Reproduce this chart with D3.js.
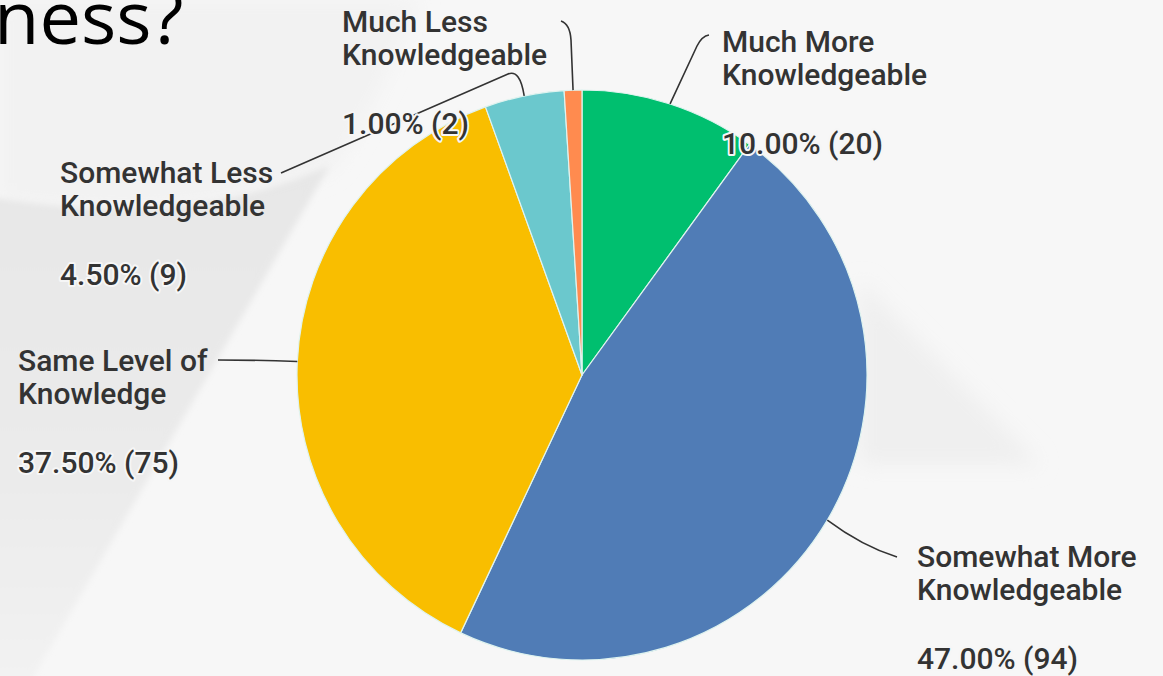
<!DOCTYPE html>
<html>
<head>
<meta charset="utf-8">
<script src="https://cdn.jsdelivr.net/npm/d3@7"></script>
<style>
  html, body { margin: 0; padding: 0; background: #f6f6f6; }
  svg { display: block; }
  .name, .value { font-family: Roboto, "Noto Sans", sans-serif; font-size: 30px; font-weight: 500; fill: #333; }
  .value { paint-order: stroke; stroke: #f6f6f6; stroke-width: 4px; stroke-linejoin: round; }
  .leader { fill: none; stroke: #333; stroke-width: 1.6; }
</style>
</head>
<body>
<svg id="chart" width="1163" height="676"></svg>
<script>
// ---------------- Дані ----------------
const categories = [
  "Much More Knowledgeable",
  "Somewhat More Knowledgeable",
  "Same Level of Knowledge",
  "Somewhat Less Knowledgeable",
  "Much Less Knowledgeable"
];
const counts   = [20, 94, 75, 9, 2];
const percents = [10.00, 47.00, 37.50, 4.50, 1.00];
const nameLines = [
  ["Much More", "Knowledgeable"],
  ["Somewhat More", "Knowledgeable"],
  ["Same Level of", "Knowledge"],
  ["Somewhat Less", "Knowledgeable"],
  ["Much Less", "Knowledgeable"]
];
const colors = ["#00bf6f", "#507cb6", "#f9be00", "#6bc8cd", "#ff8b4f"];

// розташування підписів (x, перша базова лінія) і виносок
const labelPos = [[722, 52], [917, 567], [18, 371], [60, 183], [342, 32]];
const leaders = [
  { a: [697, 46], c: [702, 36], b: [709, 35], e: [709, 35] },
  { a: null,      c: [862, 546], b: [897, 557], e: [897, 557] },
  { a: null,      c: [258, 360], b: [218, 360], e: [218, 360] },
  { a: null,      c: [520, 69], b: [508, 74], e: [281, 173] },
  { a: [571, 40], c: [570, 24], b: [561, 21], e: [561, 21] }
];

const svg = d3.select("#chart");
const width = +svg.attr("width");
const height = +svg.attr("height");

// ---------------- Фон ----------------
const defs = svg.append("defs");
const leftGrad = defs.append("linearGradient").attr("id", "leftGrad")
  .attr("x1", 0).attr("y1", 0).attr("x2", 0).attr("y2", 1);
leftGrad.append("stop").attr("offset", 0).attr("stop-color", "#e7e7e7");
leftGrad.append("stop").attr("offset", 0.6).attr("stop-color", "#ebebeb");
leftGrad.append("stop").attr("offset", 1).attr("stop-color", "#f3f3f3");
defs.append("filter").attr("id", "soft").attr("x", -0.2).attr("y", -0.2).attr("width", 1.4).attr("height", 1.4)
  .append("feGaussianBlur").attr("stdDeviation", 3);
defs.append("filter").attr("id", "softer").attr("x", -0.3).attr("y", -0.3).attr("width", 1.6).attr("height", 1.6)
  .append("feGaussianBlur").attr("stdDeviation", 10);

svg.append("rect").attr("width", width).attr("height", height).attr("fill", "#f7f7f7");
// верхній лівий кут трохи темніший
svg.append("path")
  .attr("d", "M0,0 L420,0 C380,90 350,150 330,170 C220,215 110,215 0,200 Z")
  .attr("fill", "#f2f2f2")
  .attr("filter", "url(#softer)");
// сіра область ліворуч з діагональним краєм
svg.append("path")
  .attr("d", "M-20,195 C110,218 220,215 330,165 L20,700 L-20,700 Z")
  .attr("fill", "url(#leftGrad)")
  .attr("filter", "url(#soft)");
// слабка тінь праворуч
svg.append("path")
  .attr("d", "M860,280 L1040,465 L860,465 Z")
  .attr("fill", "#efefef")
  .attr("filter", "url(#softer)");

// ---------------- Заголовок (обрізаний) ----------------
svg.append("text")
  .attr("x", -6).attr("y", 44)
  .style("font-family", "'Open Sans', 'Noto Sans', sans-serif")
  .style("font-size", "74px")
  .style("fill", "#000")
  .text("ness?");

// ---------------- Пиріг ----------------
const cx = 582, cy = 375, radius = 285;
const g = svg.append("g").attr("transform", `translate(${cx},${cy})`);

const pie = d3.pie().sort(null).value(d => d.count);
const data = categories.map((c, i) => ({ name: c, count: counts[i], pct: percents[i], i }));
const arcs = pie(data);

const arc = d3.arc().innerRadius(0).outerRadius(radius);
const edge = d3.arc().innerRadius(radius).outerRadius(radius);

g.selectAll("path.slice")
  .data(arcs)
  .enter()
  .append("path")
  .attr("class", "slice")
  .attr("d", arc)
  .attr("fill", d => colors[d.data.i])
  .attr("stroke", "#dff3ef")
  .attr("stroke-width", 1.2)
  .attr("stroke-linejoin", "round");

// виноски
svg.append("g")
  .selectAll("path")
  .data(arcs)
  .enter()
  .append("path")
  .attr("class", "leader")
  .attr("d", d => {
    const [ex, ey] = edge.centroid(d);
    const s = [cx + ex, cy + ey];
    const L = leaders[d.data.i];
    const p = d3.path();
    p.moveTo(s[0], s[1]);
    if (L.a) p.lineTo(L.a[0], L.a[1]);
    p.quadraticCurveTo(L.c[0], L.c[1], L.b[0], L.b[1]);
    if (L.e[0] !== L.b[0] || L.e[1] !== L.b[1]) p.lineTo(L.e[0], L.e[1]);
    return p.toString();
  });

// підписи
const labels = svg.append("g")
  .selectAll("g")
  .data(arcs)
  .enter()
  .append("g")
  .attr("transform", d => `translate(${labelPos[d.data.i][0]},${labelPos[d.data.i][1]})`);

labels.each(function(d) {
  const sel = d3.select(this);
  nameLines[d.data.i].forEach((t, k) => {
    sel.append("text").attr("class", "name").attr("y", k * 33).text(t);
  });
  sel.append("text")
    .attr("class", "value")
    .attr("y", 33 + 69)
    .text(d.data.pct.toFixed(2) + "% (" + d.data.count + ")");
});
</script>
</body>
</html>
